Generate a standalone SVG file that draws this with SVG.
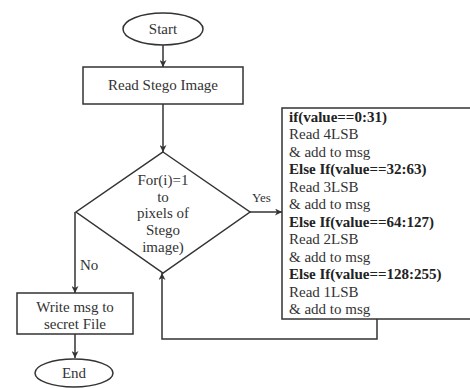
<svg xmlns="http://www.w3.org/2000/svg" width="470" height="388" viewBox="0 0 470 388">
<defs>
<marker id="ah" viewBox="0 0 10 10" refX="10" refY="5" markerWidth="7" markerHeight="7" orient="auto" markerUnits="userSpaceOnUse">
<path d="M0,0 L10,5 L0,10 L3,5 Z" fill="#333"/>
</marker>
<style>
.shape{fill:#fff;stroke:#333;stroke-width:1.5}
.t{font-family:"Liberation Serif","Times New Roman",serif;font-size:15px;fill:#333;text-anchor:middle}
.bt{font-family:"Liberation Serif","Times New Roman",serif;font-size:15px;fill:#333}
.b{font-weight:bold;fill:#222}
.c{fill:none;stroke:#333;stroke-width:1.5}
</style>
</defs>
<rect width="470" height="388" fill="#fff"/>
<g id="connectors">
<line class="c" x1="163" y1="45" x2="163" y2="67" marker-end="url(#ah)"/>
<line class="c" x1="163" y1="104" x2="163" y2="152" marker-end="url(#ah)"/>
<line class="c" x1="250" y1="212" x2="282" y2="212" marker-end="url(#ah)"/>
<polyline class="c" points="377,319 377,339 162,339 162,273" marker-end="url(#ah)"/>
<polyline class="c" points="75,212 75,293" marker-end="url(#ah)"/>
<line class="c" x1="75" y1="334" x2="75" y2="358" marker-end="url(#ah)"/>
<text class="bt" x="252" y="202" font-size="13" style="font-size:13px">Yes</text>
<text class="bt" x="80" y="270">No</text>
</g>
<g id="start">
<ellipse class="shape" cx="163" cy="29" rx="40" ry="16"/>
<text class="t" x="163" y="34">Start</text>
</g>
<g id="read">
<rect class="shape" x="83" y="67" width="160" height="37"/>
<text class="t" x="163" y="90">Read Stego Image</text>
</g>
<g id="loop">
<polygon class="shape" points="163,152 250,212 163,273 76,212"/>
<text class="t" x="163" y="185">For(i)=1</text>
<text class="t" x="163" y="202">to</text>
<text class="t" x="163" y="218">pixels of</text>
<text class="t" x="163" y="235">Stego</text>
<text class="t" x="163" y="252">image)</text>
</g>
<g id="process">
<rect class="shape" x="282" y="108" width="200" height="211"/>
<text class="bt b" x="289" y="122">if(value==0:31)</text>
<text class="bt" x="289" y="139">Read 4LSB</text>
<text class="bt" x="289" y="157">&amp; add to msg</text>
<text class="bt b" x="289" y="174">Else If(value==32:63)</text>
<text class="bt" x="289" y="192">Read 3LSB</text>
<text class="bt" x="289" y="209">&amp; add to msg</text>
<text class="bt b" x="289" y="227">Else If(value==64:127)</text>
<text class="bt" x="289" y="244">Read 2LSB</text>
<text class="bt" x="289" y="262">&amp; add to msg</text>
<text class="bt b" x="289" y="279">Else If(value==128:255)</text>
<text class="bt" x="289" y="297">Read 1LSB</text>
<text class="bt" x="289" y="314">&amp; add to msg</text>
</g>
<g id="write">
<rect class="shape" x="17" y="293" width="116" height="41"/>
<text class="t" x="75" y="312">Write msg to</text>
<text class="t" x="75" y="329">secret File</text>
</g>
<g id="end">
<ellipse class="shape" cx="74" cy="373" rx="39" ry="14"/>
<text class="t" x="74" y="378">End</text>
</g>
</svg>
